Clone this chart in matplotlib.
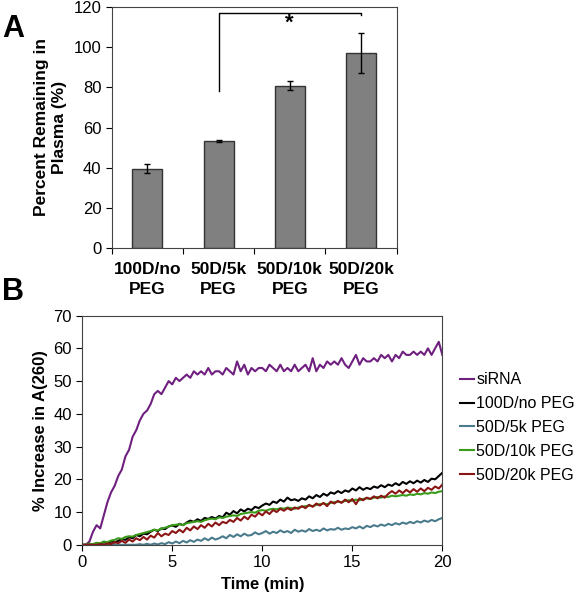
import numpy as np
import matplotlib.pyplot as plt

plt.rcParams['font.family'] = ['Liberation Sans', 'DejaVu Sans']

# panel A data
categories = ["100D/no\nPEG", "50D/5k\nPEG", "50D/10k\nPEG", "50D/20k\nPEG"]
remaining = [39.5, 53.5, 80.8, 97.3]
remaining_err = [2.4, 0.5, 2.3, 10.0]

# panel B data (every 0.2 min)
time_min = np.round(np.arange(0, 20.01, 0.2), 1)
sirna = [0, 0, 1, 4, 6, 5, 9, 13, 16, 18,
         21, 23, 27, 29, 33, 35, 38, 40, 41, 43,
         46, 47, 46, 48, 50, 49, 51, 50, 51, 52,
         51, 53, 52, 53, 52, 54, 52, 53, 53, 52,
         54, 53, 52, 56, 53, 55, 52, 54, 53, 54,
         54, 53, 55, 54, 53, 55, 53, 54, 53, 55,
         53, 54, 55, 53, 57, 53, 55, 54, 56, 55,
         56, 55, 57, 55, 54, 56, 58, 55, 57, 56,
         56, 57, 56, 58, 57, 58, 56, 58, 57, 59,
         58, 58, 59, 58, 59, 58, 60, 58, 60, 62, 58]
no_peg = [0, 0, 0.3, 0, 0.5, 0.2, 0.8, 0.5, 1.0, 0.7,
          1.2, 1.8, 1.5, 2.3, 2.0, 3.0, 2.6, 3.4, 3.2, 4.0,
          4.6, 4.2, 5.0, 4.8, 5.6, 5.9, 5.5, 6.4, 6.0, 6.8,
          7.4, 7.0, 7.8, 7.3, 8.2, 7.9, 8.5, 8.0, 8.8, 8.4,
          9.8, 9.2, 10.3, 9.6, 10.8, 10.2, 11.0, 10.6, 11.6, 11.2,
          12.0, 12.6, 12.2, 13.2, 12.8, 13.8, 13.2, 14.4, 13.6, 13.9,
          13.4, 14.2, 13.8, 14.8, 14.2, 15.2, 14.6, 15.6, 15.0, 16.0,
          15.6, 16.4, 15.8, 16.6, 16.2, 17.2, 16.6, 17.6, 16.8, 17.4,
          17.0, 17.8, 17.4, 18.2, 17.6, 18.4, 18.0, 18.8, 18.2, 19.2,
          18.6, 19.4, 18.8, 19.6, 19.0, 19.8, 19.2, 20.2, 20.0, 21.0, 22.0]
peg_5k = [0, 0, 0, 0, 0, 0, 0, 0, 0, 0,
          0, 0, 0, 0, 0, 0, 0.2, 0, 0.3, 0,
          0.4, 0.1, 0.5, 0.2, 0.8, 0.4, 1.0, 0.5, 1.2, 0.7,
          1.4, 0.9, 1.6, 1.2, 2.0, 1.4, 2.2, 1.6, 2.0, 2.6,
          2.0, 3.0, 2.4, 3.2, 2.6, 3.4, 2.8, 3.0, 3.8, 3.2,
          3.6, 4.2, 3.4, 4.0, 3.6, 4.4, 3.8, 4.2, 3.6, 4.6,
          4.0, 4.4, 4.0, 4.8, 4.2, 4.6, 4.2, 5.0, 4.4, 4.8,
          4.6, 5.2, 4.6, 5.0, 4.8, 5.4, 5.0, 5.6, 5.0, 5.8,
          5.4, 6.0, 5.6, 6.2, 5.8, 6.4, 6.0, 6.6, 6.2, 6.8,
          6.4, 7.0, 6.6, 7.2, 6.8, 7.4, 7.0, 7.6, 7.2, 7.8, 8.2]
peg_10k = [0, 0, 0.3, 0.2, 0.6, 0.5, 1.0, 0.8, 1.3, 1.5,
           2.0, 1.8, 2.4, 2.6, 2.5, 3.0, 3.3, 3.6, 3.9, 4.2,
           4.6, 4.4, 5.0, 5.2, 5.6, 6.0, 6.1, 6.3, 6.0, 6.6,
           6.8, 7.0, 7.2, 7.0, 7.5, 7.8, 8.0, 7.8, 8.4, 8.2,
           8.6, 8.8, 9.0, 8.8, 9.4, 9.6, 9.8, 10.0, 9.8, 10.4,
           10.6, 10.4, 10.8, 11.0, 10.8, 11.2, 11.0, 11.4, 11.2, 11.0,
           11.4, 11.6, 11.8, 12.0, 11.8, 12.2, 12.4, 12.6, 12.4, 12.8,
           13.0, 13.2, 13.0, 13.4, 13.6, 13.4, 13.8, 13.6, 14.0, 14.2,
           14.0, 14.4, 14.6, 14.4, 14.8, 14.6, 15.0, 14.8, 15.0, 15.2,
           15.0, 15.4, 15.2, 15.6, 15.4, 15.8, 15.6, 16.0, 15.8, 16.2, 16.4]
peg_20k = [0, 0, 0, 0, 0, 0.2, 0, 0.4, 0.2, 0.8,
           0.5, 1.2, 0.6, 1.6, 1.0, 2.0, 1.4, 2.4, 1.6, 2.8,
           2.2, 3.6, 2.6, 3.4, 3.0, 4.2, 3.6, 4.6, 3.8, 5.2,
           4.4, 5.6, 4.8, 6.0, 5.2, 6.4, 5.6, 6.8, 6.0, 7.0,
           6.6, 7.6, 7.0, 8.2, 7.4, 8.6, 7.8, 9.2, 8.6, 9.8,
           9.0, 10.2, 9.4, 10.6, 10.0, 11.0, 10.4, 11.2, 10.6, 11.4,
           11.0, 11.8, 11.2, 12.2, 11.6, 12.6, 12.0, 12.8, 11.8, 13.2,
           12.6, 13.4, 12.8, 13.8, 13.0, 14.0, 12.4, 14.2, 13.6, 14.4,
           14.0, 14.8, 14.2, 15.0, 14.4, 15.6, 16.4, 15.6, 16.6, 15.8,
           16.8, 16.0, 17.0, 16.2, 17.2, 16.4, 17.4, 16.8, 17.8, 17.2, 18.4]

series = [("siRNA", sirna, "#6f1f7f"),
          ("100D/no PEG", no_peg, "#000000"),
          ("50D/5k PEG", peg_5k, "#4a7b8d"),
          ("50D/10k PEG", peg_10k, "#3a9a1a"),
          ("50D/20k PEG", peg_20k, "#8b1515")]

fig = plt.figure(figsize=(5.79, 6.0), dpi=100)

# ---- panel A
axA = fig.add_axes([0.193, 0.587, 0.492, 0.401])
xpos = np.arange(1, len(categories) + 1)
axA.bar(xpos, remaining, width=0.42, color="#808080", edgecolor="#333333",
        linewidth=1.0, yerr=remaining_err, capsize=2.5,
        error_kw=dict(elinewidth=1.0, capthick=1.0, ecolor="black"))
axA.set_xlim(0.5, 4.5)
axA.set_ylim(0, 120)
axA.set_yticks(range(0, 121, 20))
axA.set_xticks(np.arange(0.5, 4.6, 1.0))
axA.set_xticklabels([])
axA.set_xticks(xpos, minor=True)
axA.set_xticklabels(categories, minor=True, fontsize=12.5, fontweight="bold",
                    linespacing=1.45)
axA.tick_params(axis="x", which="minor", length=0, pad=10)
axA.tick_params(axis="x", which="major", length=4, direction="out")
axA.tick_params(axis="y", length=4, direction="out", labelsize=12)
axA.set_ylabel("Percent Remaining in\nPlasma (%)", fontsize=12.5,
               fontweight="bold", labelpad=5)
for s in axA.spines.values():
    s.set_color("#444444")

# significance bracket
axA.plot([2, 2, 4, 4], [78, 117.3, 117.3, 116.3], color="black", lw=1.0)
axA.text(3.0, 109.5, "*", ha="center", va="baseline", fontsize=16, fontweight="bold")

# ---- panel B
axB = fig.add_axes([0.142, 0.092, 0.622, 0.382])
for name, vals, col in series:
    axB.plot(time_min, vals, color=col, lw=1.5, label=name)
axB.set_xlim(0, 20)
axB.set_ylim(0, 70)
axB.set_xticks(range(0, 21, 5))
axB.set_yticks(range(0, 71, 10))
axB.tick_params(length=4, direction="out", labelsize=12)
axB.set_xlabel("Time (min)", fontsize=12, fontweight="bold", labelpad=5)
axB.set_ylabel("% Increase in A(260)", fontsize=12, fontweight="bold", labelpad=4)
for s in axB.spines.values():
    s.set_color("#444444")
axB.legend(loc="upper left", bbox_to_anchor=(1.03, 0.78), frameon=False,
           handlelength=0.9, handletextpad=0.15, labelspacing=0.55,
           fontsize=11.5, borderaxespad=0)

fig.text(0.003, 0.938, "A", fontsize=22, fontweight="bold")
fig.text(0.003, 0.5, "B", fontsize=22, fontweight="bold")

fig.savefig("out.png", dpi=100)
